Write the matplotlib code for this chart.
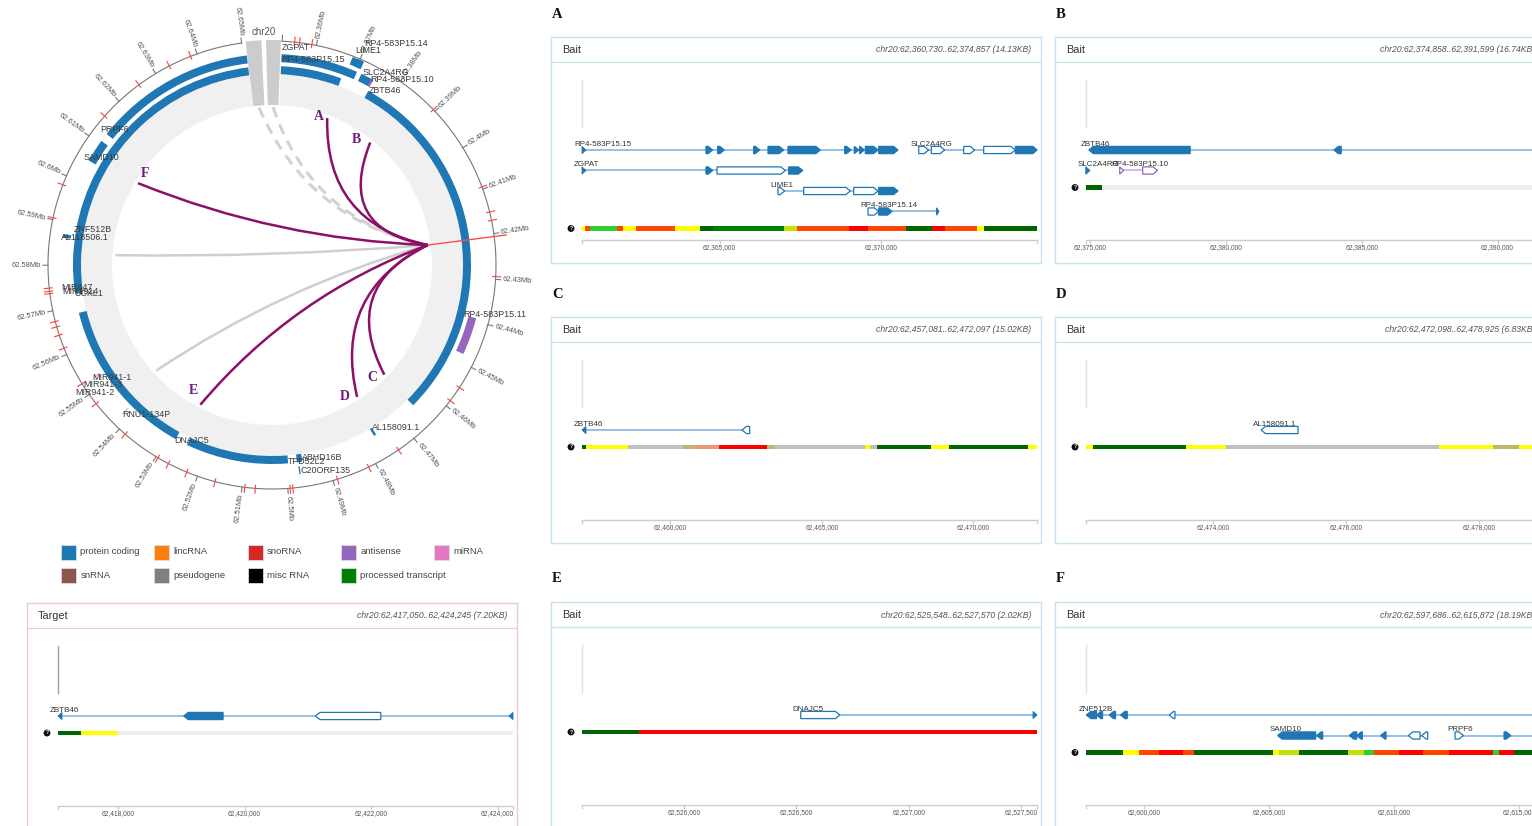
import numpy as np
import matplotlib
matplotlib.use("Agg")
import matplotlib.pyplot as plt
from matplotlib.patches import Wedge, Polygon, Rectangle, PathPatch
from matplotlib.path import Path

plt.rcParams['font.family'] = ['Liberation Sans', 'DejaVu Sans']
SERIF = ['Liberation Serif', 'DejaVu Serif']

W, H = 1532, 826

# ---------------------------------------------------------------- data
BIOTYPES = ["protein coding", "lincRNA", "snoRNA", "antisense", "miRNA",
            "snRNA", "pseudogene", "misc RNA", "processed transcript"]
BIOTYPE_COLORS = ["#1f77b4", "#ff7f0e", "#d62728", "#9467bd", "#e377c2",
                  "#8c564b", "#7f7f7f", "#000000", "#008000"]
BIOTYPE_COLOR = dict(zip(BIOTYPES, BIOTYPE_COLORS))

STATE_COLORS = {"TssA": "#ff0000", "TssAFlnk": "#ff4500", "TxFlnk": "#32cd32",
                "Tx": "#008000", "TxWk": "#006400", "EnhG": "#c2e105",
                "Enh": "#ffff00", "BivFlnk": "#e9967a", "EnhBiv": "#bdb76b",
                "ReprPCWk": "#c0c0c0"}

# circular overview (Mb)
CIRCLE_START, CIRCLE_END = 62.3525, 62.6508
CIRCLE_TICKS = np.round(np.arange(62.36, 62.6501, 0.01), 2)

CIRCLE_GENES = ["ZGPAT", "RP4-583P15.15", "LIME1", "RP4-583P15.14", "SLC2A4RG",
                "RP4-583P15.10", "ZBTB46", "RP4-583P15.11", "AL158091.1", "ABHD16B",
                "TPD52L2", "C20ORF135", "DNAJC5", "RNU1-134P", "MIR941-1", "MIR941-3",
                "MIR941-2", "UCKL1", "MIR647", "MIR1914", "ZNF512B", "AL118506.1",
                "SAMD10", "PRPF6"]
CIRCLE_GENE_START = [62.3525, 62.3525, 62.3683, 62.3696, 62.3716, 62.3741, 62.3749,
                     62.4393, 62.4766, 62.4960, 62.4995, 62.4968, 62.5281, 62.5418,
                     62.5527, 62.5525, 62.5520, 62.5730, 62.5749, 62.5738, 62.5886,
                     62.5864, 62.6053, 62.6127]
CIRCLE_GENE_END = [62.3676, 62.3705, 62.3708, 62.3710, 62.3746, 62.3747, 62.4650,
                   62.4481, 62.4772, 62.4973, 62.5250, 62.4971, 62.5682, 62.5419,
                   62.5528, 62.5526, 62.5521, 62.5886, 62.5750, 62.5739, 62.6508,
                   62.5872, 62.6107, 62.6508]
CIRCLE_GENE_TYPE = ["protein coding", "protein coding", "protein coding", "protein coding",
                    "protein coding", "antisense", "protein coding", "antisense",
                    "protein coding", "protein coding", "protein coding", "protein coding",
                    "protein coding", "snRNA", "miRNA", "miRNA", "miRNA", "protein coding",
                    "miRNA", "miRNA", "protein coding", "protein coding", "protein coding",
                    "protein coding"]
CIRCLE_GENE_LEVEL = [0, 1, 2, 2, 1, 1, 0, 1, 0, 0, 0, 1, 0, 1, 1, 1, 1, 0, 1, 1, 0, 1, 1, 1]

# restriction sites marked on the outer scale (Mb)
RED_TICKS = [62.3552, 62.3563, 62.3590, 62.3895, 62.4095, 62.4152, 62.4171, 62.4294,
             62.4551, 62.4586, 62.4742, 62.4817, 62.4890, 62.4989, 62.4995, 62.5071,
             62.5094, 62.5160, 62.5225, 62.5269, 62.5295, 62.5383, 62.5475, 62.5528,
             62.5615, 62.5645, 62.5664, 62.5676, 62.5738, 62.5743, 62.5750, 62.5904,
             62.5979, 62.6155, 62.6256, 62.6334, 62.6385]

TARGET = (62417050, 62424245)
BAIT_NAMES = ["A", "B", "C", "D", "E", "F"]
BAIT_START = [62360730, 62374858, 62457081, 62472098, 62525548, 62597686]
BAIT_END = [62374857, 62391599, 62472097, 62478925, 62527570, 62615872]
WEAK_LINK_POS = [62583100, 62544000]

# gene models for the track panels: (name, strand, row, span, exons[(start, end, coding)])
GENES_A = [
    ("RP4-583P15.15", 1, 0, (62358000, 62370542),
     [(62364580, 62364787, 1), (62364943, 62365149, 1), (62366060, 62366247, 1),
      (62366505, 62366992, 1), (62367126, 62368130, 1), (62368886, 62369082, 1),
      (62369186, 62369321, 1), (62369352, 62369496, 1), (62369527, 62369921, 1),
      (62369942, 62370542, 1)]),
    ("SLC2A4RG", 1, 0, (62371184, 62374930),
     [(62371184, 62371494, 0), (62371577, 62371991, 0), (62372581, 62372922, 0),
      (62373202, 62374185, 0), (62374185, 62374930, 1)]),
    ("ZGPAT", 1, 1, (62358000, 62367582),
     [(62364580, 62364787, 1), (62364922, 62367044, 0), (62367147, 62367582, 1)]),
    ("LIME1", 1, 2, (62366816, 62370542),
     [(62366816, 62367023, 0), (62367613, 62369062, 0), (62369165, 62369921, 0),
      (62369942, 62370542, 1)]),
    ("RP4-583P15.14", 1, 3, (62369610, 62371805),
     [(62369610, 62369942, 0), (62369942, 62370356, 1), (62371740, 62371805, 1)]),
]
GENES_B = [
    ("ZBTB46", -1, 0, (62374963, 62462614),
     [(62374963, 62378690, 1), (62383980, 62384249, 1)]),
    ("SLC2A4RG", 1, 1, (62371184, 62374930), [(62374185, 62374930, 1)]),
    ("RP4-583P15.10", 1, 1, (62376099, 62377491),
     [(62376099, 62376245, 0), (62376942, 62377491, 0)]),
]
GENES_C = [("ZBTB46", -1, 0, (62374963, 62462614), [(62462361, 62462614, 0)])]
GENES_D = [("AL158091.1", -1, 0, (62474725, 62475280), [(62474725, 62475280, 0)])]
GENES_E = [("DNAJC5", 1, 0, (62526520, 62567384), [(62526520, 62526694, 0)])]
GENES_F = [
    ("ZNF512B", -1, 0, (62597700, 62640000),
     [(62597700, 62598107, 1), (62598107, 62598347, 1), (62598614, 62598867, 1),
      (62599067, 62599334, 1), (62601013, 62601240, 0)]),
    ("SAMD10", -1, 1, (62605345, 62611344),
     [(62605345, 62606865, 1), (62606905, 62607145, 1), (62608211, 62608505, 1),
      (62608505, 62608731, 1), (62609464, 62609678, 1), (62610571, 62611037, 0),
      (62611104, 62611344, 0)]),
    ("PRPF6", 1, 1, (62612437, 62640000),
     [(62612437, 62612770, 0), (62614397, 62614663, 1)]),
]
GENES_T = [("ZBTB46", -1, 0, (62374963, 62462614),
            [(62419038, 62419660, 1), (62421121, 62422154, 0)])]
GENE_TYPE_TRACK = {"RP4-583P15.10": "antisense"}

# chromatin-state segments (edges in bp, one state per interval)
HMM_A_EDGES = [62360730, 62360813, 62360989, 62361817, 62361993, 62362407, 62363607,
               62364404, 62364787, 62366992, 62367406, 62369010, 62369600, 62370801,
               62371598, 62371991, 62372995, 62373202, 62374857]
HMM_A_STATES = ["Enh", "TssAFlnk", "TxFlnk", "TssAFlnk", "Enh", "TssAFlnk", "Enh", "TxWk",
                "Tx", "EnhG", "TssAFlnk", "TssA", "TssAFlnk", "TxWk", "TssA", "TssAFlnk",
                "Enh", "TxWk"]
HMM_B_EDGES = [62374858, 62375460]
HMM_B_STATES = ["TxWk"]
HMM_C_EDGES = [62457081, 62457213, 62458599, 62460403, 62460799, 62461591, 62463186,
               62463406, 62466409, 62466596, 62466816, 62468598, 62469203, 62471788,
               62472097]
HMM_C_STATES = ["TxWk", "Enh", "ReprPCWk", "EnhBiv", "BivFlnk", "TssA", "EnhBiv",
                "ReprPCWk", "Enh", "ReprPCWk", "TxWk", "Enh", "TxWk", "Enh"]
HMM_D_EDGES = [62472098, 62472205, 62473605, 62474205, 62477400, 62478200, 62478600,
               62478925]
HMM_D_STATES = ["Enh", "TxWk", "Enh", "ReprPCWk", "Enh", "EnhBiv", "Enh"]
HMM_E_EDGES = [62525548, 62525800, 62527570]
HMM_E_STATES = ["TxWk", "TssA"]
HMM_F_EDGES = [62597686, 62599174, 62599800, 62600600, 62601573, 62601999, 62605172,
               62605398, 62606198, 62608171, 62608797, 62609197, 62610197, 62611170,
               62612196, 62613969, 62614196, 62614796, 62615872]
HMM_F_STATES = ["TxWk", "Enh", "TssAFlnk", "TssA", "TssAFlnk", "TxWk", "Enh", "EnhG",
                "TxWk", "EnhG", "TxFlnk", "TssAFlnk", "TssA", "TssAFlnk", "TssA",
                "TxFlnk", "TssA", "TxWk"]
HMM_T_EDGES = [62417050, 62417409, 62418000]
HMM_T_STATES = ["TxWk", "Enh"]

TICK_STEP = {"A": 5000, "B": 5000, "C": 5000, "D": 2000, "E": 500, "F": 5000, "T": 2000}

# ---------------------------------------------------------------- layout
fig = plt.figure(figsize=(W / 100, H / 100), dpi=100)


def px_rect(left, top, width, height):
    return [left / W, 1 - (top + height) / H, width / W, height / H]


# ---------------------------------------------------------------- circos view
cax = fig.add_axes(px_rect(0, 0, 540, 540))
cax.set_xlim(-272, 268)
cax.set_ylim(-275, 265)
cax.axis('off')

ANG0, ANG_PER_MB = 175.94, 1175.1      # angle at 62.5 Mb, degrees per Mb
R_AXIS, R_LINK, R_RING_IN = 224, 157, 160
RING_BASE, RING_STEP, RING_W = 191, 12, 8
LINK_COLOR, LETTER_COLOR, GREY_LINK = "#8d1068", "#6c1c7a", "#cfcfcf"


def ang(mb):
    return ANG0 + (mb - 62.5) * ANG_PER_MB


def pol(theta, r):
    t = np.deg2rad(theta)
    return r * np.sin(t), r * np.cos(t)


def arc_wedge(a0, a1, r_out, width, **kw):
    return Wedge((0, 0), r_out, 90 - a1, 90 - a0, width=width, **kw)


# light ring behind the links
cax.add_patch(arc_wedge(ang(CIRCLE_START), ang(CIRCLE_END), RING_BASE,
                        RING_BASE - R_RING_IN, fc="#f0f0f0", ec="none", zorder=1))
# chromosome blocks closing the gap
gap_mid = (ang(CIRCLE_END) + ang(CIRCLE_START) + 360) / 2
for a0, a1 in ((gap_mid - 4.6, gap_mid - 0.6), (gap_mid + 0.6, gap_mid + 4.4)):
    cax.add_patch(arc_wedge(a0, a1, R_AXIS + 1, R_AXIS + 1 - R_RING_IN,
                            fc="#cccccc", ec="none", zorder=2))
tx, ty = pol(gap_mid, 233)
cax.text(tx, ty, "chr20", ha='center', va='center', fontsize=7, color="#555")

# outer scale
th = np.linspace(ang(CIRCLE_START), ang(62.65), 400)
cax.plot(*pol(th, R_AXIS), color="#777", lw=0.8, zorder=3)
x0, y0 = pol(ang(CIRCLE_START), R_AXIS)
x1, y1 = pol(ang(CIRCLE_START), R_AXIS + 6)
cax.plot([x0, x1], [y0, y1], color="#777", lw=0.8)
for v in CIRCLE_TICKS:
    a = ang(v)
    (xa, ya), (xb, yb) = pol(a, R_AXIS), pol(a, R_AXIS + 5)
    cax.plot([xa, xb], [ya, yb], color="#777", lw=0.8, zorder=3)
    xl, yl = pol(a, R_AXIS + 7)
    if a % 360 < 180:
        rot, ha = 90 - a, 'left'
    else:
        rot, ha = 270 - a, 'right'
    cax.text(xl, yl, f"{v:g}Mb", rotation=rot, rotation_mode='anchor', ha=ha,
             va='center', fontsize=5.4, color="#555")
for v in RED_TICKS:
    a = ang(v)
    (xa, ya), (xb, yb) = pol(a, R_AXIS - 3), pol(a, R_AXIS + 5)
    cax.plot([xa, xb], [ya, yb], color="#ff4040", lw=0.8, zorder=4)

# gene arcs
for s, e, t, lvl in zip(CIRCLE_GENE_START, CIRCLE_GENE_END, CIRCLE_GENE_TYPE,
                        CIRCLE_GENE_LEVEL):
    r_in = RING_BASE + RING_STEP * lvl
    cax.add_patch(arc_wedge(ang(s), ang(e), r_in + RING_W, RING_W,
                            fc=BIOTYPE_COLOR[t], ec="none", zorder=5))
LABEL_R = [218, 206, 230, 240, 213, 210, 199, 198, 191, 195, 197, 207, 201, 212, 212,
           224, 235, 200, 212, 211, 201, 213, 217, 219]
for name, s, r in zip(CIRCLE_GENES, CIRCLE_GENE_START, LABEL_R):
    lx, ly = pol(ang(s), r)
    cax.text(lx, ly, name, ha='left', va='center', fontsize=6.4, color="#3a3a3a",
             zorder=6)


def link(p0, p2, **kw):
    p0, p2 = np.asarray(p0), np.asarray(p2)
    ctrl = 0.25 * (p0 + p2)
    path = Path([p0, ctrl, p2], [Path.MOVETO, Path.CURVE3, Path.CURVE3])
    cax.add_patch(PathPatch(path, fc='none', **kw))


t_mid = (TARGET[0] + TARGET[1]) / 2e6
t_pt = pol(ang(t_mid), R_LINK)
for a in (gap_mid - 2.6, gap_mid + 2.5):
    link(pol(a, R_RING_IN - 2), t_pt, ec="#d2d2d2", lw=2.2, ls=(0, (3.5, 2.5)), zorder=7)
for p in WEAK_LINK_POS:
    link(t_pt, pol(ang(p / 1e6), R_LINK), ec=GREY_LINK, lw=1.8, zorder=7)
LETTER_OFFSET = [(-8, 2), (-14, 3), (-12, -3), (-12, 0), (-7, 14), (7, 10)]
for name, s, e, off in zip(BAIT_NAMES, BAIT_START, BAIT_END, LETTER_OFFSET):
    end_pt = pol(ang((s + e) / 2e6), R_LINK)
    link(t_pt, end_pt, ec=LINK_COLOR, lw=1.8, zorder=8)
    cax.text(end_pt[0] + off[0], end_pt[1] + off[1], name, ha='center', va='center',
             fontsize=10, fontweight='bold', family=SERIF, color=LETTER_COLOR)
# target marker
(xa, ya), (xb, yb) = pol(ang(t_mid), R_LINK + 1), pol(ang(t_mid), R_AXIS + 12)
cax.plot([xa, xb], [ya, yb], color="#ff4d4d", lw=1.0, zorder=9)

# ---------------------------------------------------------------- legend
lax = fig.add_axes(px_rect(40, 538, 470, 52))
lax.set_xlim(0, 470)
lax.set_ylim(52, 0)
lax.axis('off')
for i, (name, col) in enumerate(zip(BIOTYPES, BIOTYPE_COLORS)):
    row, c = divmod(i, 5)
    lx, ly = 21 + c * 93.3, 6.5 + row * 23.3
    lax.add_patch(Rectangle((lx, ly), 15, 15, fc=col, ec="#dddddd", lw=0.6))
    lax.text(lx + 19.5, ly + 7.5, name, ha='left', va='center', fontsize=6.8,
             color="#444")

# ---------------------------------------------------------------- track panels
PANEL_W, PANEL_H, TRACK_L, TRACK_W = 490, 226, 31, 455


def panel(left, top, title, lo, hi, genes, edges, states, step, border, vline_col):
    ax = fig.add_axes(px_rect(left, top, PANEL_W, PANEL_H))
    bpp = (hi - lo) / TRACK_W
    ax.set_xlim(lo - TRACK_L * bpp, lo + (PANEL_W - TRACK_L) * bpp)
    ax.set_ylim(PANEL_H, 0)
    ax.set_xticks([])
    ax.set_yticks([])
    for sp in ax.spines.values():
        sp.set_color(border)
        sp.set_linewidth(1.0)
    ax.axhline(25, color=border, lw=0.9)
    ax.text(11 / PANEL_W, 1 - 13 / PANEL_H, title, transform=ax.transAxes,
            ha='left', va='center', fontsize=7.8, color="#333")
    ax.text(480 / PANEL_W, 1 - 13 / PANEL_H,
            f"chr20:{lo:,}..{hi:,} ({(hi - lo + 1) / 1000:.2f}KB)",
            transform=ax.transAxes, ha='right', va='center', fontsize=6.2,
            style='italic', color="#555")
    ax.plot([lo, lo], [43, 90], color=vline_col, lw=1.0)

    rows = [g[2] for g in genes]
    row_y = lambda r: 113 + 20.5 * r
    h, tip = 3.6, 4.5 * bpp
    for name, strand, row, span, exons in genes:
        y = row_y(row)
        col = BIOTYPE_COLOR[GENE_TYPE_TRACK.get(name, "protein coding")]
        lcol = "#c5a9df" if col == BIOTYPE_COLOR["antisense"] else "#7eaed8"
        s0, s1 = max(span[0], lo), min(span[1], hi)
        ax.plot([s0, s1], [y, y], color=lcol, lw=1.1, solid_capstyle='butt', zorder=2)
        for es, ee, coding in exons:
            es, ee = max(es, lo), min(ee, hi)
            if ee <= es:
                continue
            t = min(tip, ee - es)
            if strand > 0:
                pts = [(es, y - h), (ee - t, y - h), (ee, y), (ee - t, y + h), (es, y + h)]
            else:
                pts = [(ee, y - h), (es + t, y - h), (es, y), (es + t, y + h), (ee, y + h)]
            ax.add_patch(Polygon(pts, closed=True, fc=col if coding else "white",
                                 ec=col, lw=0.9, zorder=3))
        mk = 4 * bpp
        if span[0] < lo:
            pts = ([(lo, y - h), (lo + mk, y), (lo, y + h)] if strand > 0 else
                   [(lo + mk, y - h), (lo, y), (lo + mk, y + h)])
            ax.add_patch(Polygon(pts, closed=True, fc=col, ec=col, lw=0.6, zorder=3))
        if span[1] > hi:
            pts = ([(hi - mk, y - h), (hi, y), (hi - mk, y + h)] if strand > 0 else
                   [(hi, y - h), (hi - mk, y), (hi, y + h)])
            ax.add_patch(Polygon(pts, closed=True, fc=col, ec=col, lw=0.6, zorder=3))
        if max(span[0], lo) < hi and max(span[0], lo) >= lo and s1 > s0:
            ax.annotate(name, xy=(s0, y - h), xytext=(-8, -1.5),
                        textcoords='offset pixels', ha='left', va='bottom',
                        fontsize=5.8, color="#333")

    hy = row_y(max(rows)) + 17
    ax.broken_barh([(lo, hi - lo)], (hy - 2.3, 4.6), facecolors="#eeeeee", zorder=2)
    ax.broken_barh([(a, b - a) for a, b in zip(edges[:-1], edges[1:])],
                   (hy - 2.3, 4.6), facecolors=[STATE_COLORS[s] for s in states],
                   zorder=3)
    ax.annotate("?", xy=(lo, hy), xytext=(-11, 0), textcoords='offset pixels',
                ha='center', va='center', fontsize=3.8, fontweight='bold', color="white",
                bbox=dict(boxstyle='circle,pad=0.18', fc="#111", ec='none'))

    ay = 203
    ticks = np.arange(np.ceil(lo / step) * step, hi + 1, step)
    ax.plot([lo, hi], [ay, ay], color="#cccccc", lw=1.0)
    ax.vlines(np.concatenate([[lo, hi], ticks]), ay, ay + 4, color="#cccccc", lw=0.9)
    for tv in ticks:
        ax.text(tv, ay + 8, f"{int(tv):,}", ha='center', va='center', fontsize=4.8,
                color="#555")
    return ax


BAIT_BORDER, TARGET_BORDER = "#c8e3ef", "#f1c9d2"
panel(27, 603, "Target", TARGET[0], TARGET[1], GENES_T, HMM_T_EDGES, HMM_T_STATES,
      TICK_STEP["T"], TARGET_BORDER, "#a0a0a0")
panel_specs = [
    ("A", 551, 37, GENES_A, HMM_A_EDGES, HMM_A_STATES),
    ("B", 1055, 37, GENES_B, HMM_B_EDGES, HMM_B_STATES),
    ("C", 551, 317, GENES_C, HMM_C_EDGES, HMM_C_STATES),
    ("D", 1055, 317, GENES_D, HMM_D_EDGES, HMM_D_STATES),
    ("E", 551, 602, GENES_E, HMM_E_EDGES, HMM_E_STATES),
    ("F", 1055, 602, GENES_F, HMM_F_EDGES, HMM_F_STATES),
]
for (letter, left, top, genes, edges, states), s, e in zip(panel_specs, BAIT_START,
                                                            BAIT_END):
    panel(left, top, "Bait", s, e, genes, edges, states, TICK_STEP[letter],
          BAIT_BORDER, "#e2e2e2")
    fig.text((left + 1) / W, 1 - (top - 23) / H, letter, ha='left', va='center',
             fontsize=10.5, fontweight='bold', family=SERIF, color="#111")

fig.savefig("out.png", dpi=100)
